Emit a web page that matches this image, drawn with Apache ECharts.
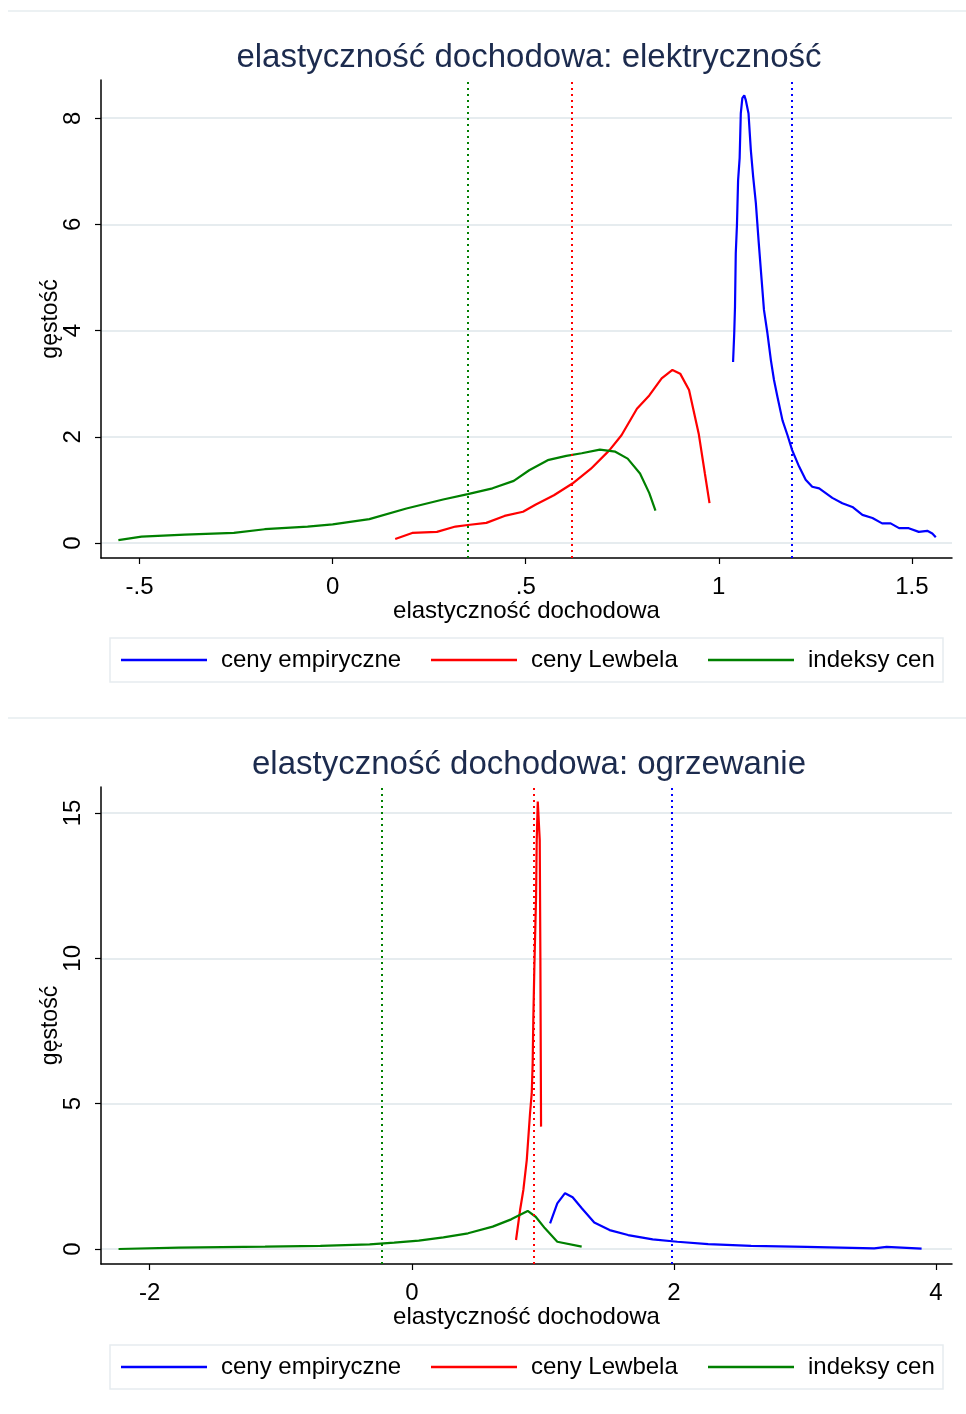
<!DOCTYPE html>
<html>
<head>
<meta charset="utf-8">
<script src="https://cdn.jsdelivr.net/npm/echarts@6/dist/echarts.min.js"></script>
<style>
html,body{margin:0;padding:0;background:#fff}
#main{width:966px;height:1414px}
</style>
</head>
<body>
<div id="main"></div>
<script>
// elastyczność dochodowa: elektryczność
let elEmpX = [1.037,1.040,1.042,1.044,1.047,1.050,1.054,1.057,1.061,1.066,1.070,1.077,1.083,1.089,1.096,1.103,1.111,1.117,1.126,1.135,1.143,1.152,1.165,1.178,1.190,1.208,1.225,1.242,1.260,1.277,1.294,1.320,1.346,1.372,1.398,1.423,1.445,1.467,1.492,1.518,1.540,1.553,1.562];
let elEmpY = [3.41,3.95,4.45,5.46,5.98,6.83,7.25,8.09,8.38,8.43,8.34,8.09,7.40,6.90,6.40,5.70,4.95,4.39,3.95,3.44,3.07,2.75,2.31,2.03,1.75,1.44,1.19,1.06,1.03,0.94,0.85,0.75,0.68,0.53,0.47,0.37,0.37,0.28,0.28,0.21,0.23,0.18,0.11];
let elLewX = [0.162,0.206,0.270,0.318,0.350,0.398,0.445,0.493,0.525,0.573,0.621,0.669,0.717,0.748,0.788,0.820,0.852,0.880,0.900,0.923,0.948,0.964,0.976];
let elLewY = [0.075,0.19,0.21,0.31,0.34,0.38,0.51,0.59,0.72,0.90,1.12,1.40,1.75,2.03,2.53,2.78,3.10,3.26,3.19,2.88,2.06,1.31,0.75];
let elIdxX = [-0.555,-0.495,-0.383,-0.256,-0.176,-0.065,0.0,0.095,0.191,0.286,0.350,0.414,0.469,0.509,0.557,0.605,0.645,0.692,0.732,0.764,0.796,0.820,0.836];
let elIdxY = [0.056,0.12,0.16,0.19,0.26,0.31,0.35,0.45,0.65,0.82,0.92,1.03,1.17,1.37,1.56,1.64,1.69,1.76,1.72,1.59,1.31,0.94,0.61];
let elMeans = [1.186, 0.623, 0.348]; // empiryczne, Lewbel, indeksy
let elXTicks = [-0.5, 0, 0.5, 1, 1.5];
let elYTicks = [0, 2, 4, 6, 8];

// elastyczność dochodowa: ogrzewanie
let heEmpX = [1.055,1.110,1.169,1.227,1.297,1.392,1.509,1.650,1.838,2.026,2.261,2.589,3.012,3.528,3.623,3.890];
let heEmpY = [0.88,1.57,1.92,1.78,1.40,0.91,0.65,0.48,0.33,0.25,0.17,0.11,0.07,0.02,0.07,0.01];
let heLewX = [0.795,0.826,0.851,0.877,0.902,0.915,0.922,0.927,0.935,0.948,0.953,0.961,0.973,0.976,0.981,0.986];
let heLewY = [0.31,1.34,2.03,3.06,4.67,5.36,6.39,7.88,9.71,12.12,14.07,15.39,15.39,14.07,9.94,4.21];
let heIdxX = [-2.238,-1.778,-1.120,-0.698,-0.322,-0.135,0.053,0.241,0.429,0.617,0.758,0.884,0.945,1.016,1.110,1.296];
let heIdxY = [0.0,0.05,0.08,0.11,0.16,0.22,0.29,0.40,0.54,0.77,1.02,1.31,1.11,0.71,0.25,0.08];
let heMeans = [1.978, 0.928, -0.232];
let heXTicks = [-2, 0, 2, 4];
let heYTicks = [0, 5, 10, 15];

let names = ['ceny empiryczne', 'ceny Lewbela', 'indeksy cen'];
let colors = ['#0000ff', '#ff0000', '#008000'];
let FONT = '"Liberation Sans", Arial, sans-serif';

function zip(xs, ys) {
    return xs.map(function (x, i) { return [x, ys[i]]; });
}

function tickFmt(v) {
    if (v === 0) return '0';
    return String(v).replace('0.', '.');
}

function makeXAxis(idx, min, max, ticks) {
    return {
        type: 'value', gridIndex: idx, min: min, max: max,
        name: 'elastyczność dochodowa', nameLocation: 'middle', nameGap: 41, nameMoveOverlap: false,
        nameTextStyle: {fontSize: 24, color: '#000', fontFamily: FONT},
        axisLine: {show: true, onZero: false, lineStyle: {color: '#000', width: 1.5}},
        axisTick: {show: true, length: 6, customValues: ticks, lineStyle: {color: '#000', width: 1.2}},
        axisLabel: {customValues: ticks, formatter: tickFmt, fontSize: 24, color: '#000', margin: 17, fontFamily: FONT},
        splitLine: {show: false}
    };
}

function makeYAxis(idx, min, max, ticks) {
    return {
        type: 'value', gridIndex: idx, min: min, max: max,
        name: 'gęstość', nameLocation: 'middle', nameGap: 39, nameMoveOverlap: false,
        nameTextStyle: {fontSize: 23, color: '#000', fontFamily: FONT},
        axisLine: {show: true, onZero: false, lineStyle: {color: '#000', width: 1.5}},
        axisTick: {show: true, length: 6, customValues: ticks, lineStyle: {color: '#000', width: 1.2}},
        axisLabel: {customValues: ticks, rotate: 90, fontSize: 24, color: '#000', margin: 16, fontFamily: FONT},
        splitLine: {show: true, customValues: ticks, lineStyle: {color: '#e6ecef', width: 2}}
    };
}

function makeSeries(idx, xs, ys, means) {
    let out = [];
    for (let i = 0; i < 3; i++) {
        out.push({
            type: 'line', name: names[i], xAxisIndex: idx, yAxisIndex: idx,
            data: zip(xs[i], ys[i]),
            color: colors[i], showSymbol: false, symbol: 'none',
            lineStyle: {width: 2.2, color: colors[i]},
            animation: false, silent: true,
            markLine: {
                silent: true, symbol: ['none', 'none'], animation: false,
                label: {show: false},
                lineStyle: {type: [2, 4], width: 2, color: colors[i]},
                data: [{xAxis: means[i]}]
            }
        });
    }
    return out;
}

function makeLegends(top) {
    let lefts = [121, 431, 708];
    return names.map(function (n, i) {
        return {
            data: [n], left: lefts[i], top: top, orient: 'horizontal', padding: 0,
            icon: 'rect', itemWidth: 86, itemHeight: 2.5,
            textStyle: {fontSize: 24, color: '#000', fontFamily: FONT, padding: [0, 0, 0, 9]},
            selectedMode: false
        };
    });
}

let chart = echarts.init(document.getElementById('main'));
let option = {
    backgroundColor: '#fff',
    animation: false,
    title: [
        {text: 'elastyczność dochodowa: elektryczność', left: 524, textAlign: 'center', top: 36,
            textStyle: {fontSize: 33, fontWeight: 'normal', color: '#1c2b4e', fontFamily: FONT}},
        {text: 'elastyczność dochodowa: ogrzewanie', left: 524, textAlign: 'center', top: 743,
            textStyle: {fontSize: 33, fontWeight: 'normal', color: '#1c2b4e', fontFamily: FONT}}
    ],
    grid: [
        {left: 101, top: 80, width: 851, height: 478, containLabel: false},
        {left: 101, top: 787, width: 851, height: 477, containLabel: false}
    ],
    xAxis: [makeXAxis(0, -0.6, 1.604, elXTicks), makeXAxis(1, -2.372, 4.122, heXTicks)],
    yAxis: [makeYAxis(0, -0.282, 8.72, elYTicks), makeYAxis(1, -0.516, 15.894, heYTicks)],
    legend: makeLegends(648).concat(makeLegends(1355)),
    graphic: [
        {type: 'line', shape: {x1: 8, y1: 11, x2: 966, y2: 11}, style: {stroke: '#e6ecef', lineWidth: 1.5}, z: -1},
        {type: 'line', shape: {x1: 8, y1: 718, x2: 966, y2: 718}, style: {stroke: '#e6ecef', lineWidth: 1.5}, z: -1},
        {type: 'rect', shape: {x: 110, y: 638, width: 833, height: 44}, style: {stroke: '#e6ecef', fill: '#fff', lineWidth: 1.5}, z: -1},
        {type: 'rect', shape: {x: 110, y: 1345, width: 833, height: 44}, style: {stroke: '#e6ecef', fill: '#fff', lineWidth: 1.5}, z: -1}
    ],
    series: makeSeries(0, [elEmpX, elLewX, elIdxX], [elEmpY, elLewY, elIdxY], elMeans)
        .concat(makeSeries(1, [heEmpX, heLewX, heIdxX], [heEmpY, heLewY, heIdxY], heMeans))
};
chart.setOption(option);
</script>
</body>
</html>
